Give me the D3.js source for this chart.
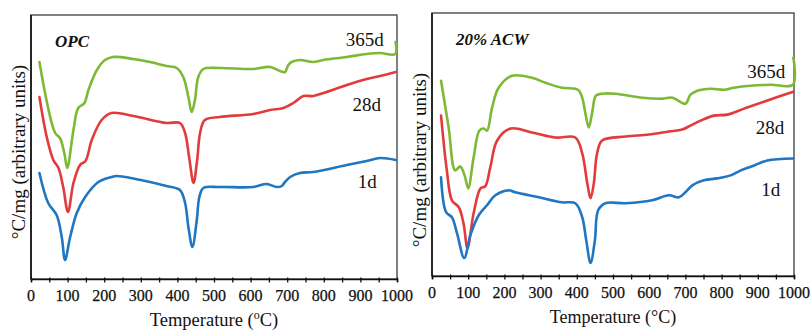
<!DOCTYPE html>
<html>
<head>
<meta charset="utf-8">
<script src="https://cdn.jsdelivr.net/npm/d3@7"></script>
<style>
  body { margin: 0; background: #fff; }
  svg { display: block; }
  text { font-family: "Liberation Serif", "Times New Roman", serif; fill: #111; }
</style>
</head>
<body>
<svg id="chart" width="811" height="331"></svg>
<script>
// temperature ticks (every 50, labelled every 100)
var tempTicks = d3.range(0, 1001, 50);
var tempLabels = d3.range(0, 1001, 100);

// OPC panel, [temperature degC, signal (arbitrary units)]
var opc365 = [[23,217],[66,146],[79,141],[91,126],[99,111],[116,149],[129,171],[146,176],[157,189],[180,209],[202,219],[224,222],[280,220],[325,217],[370,213],[398,211],[416,202],[430,182],[439,167],[448,179],[457,202],[471,210],[516,211],[607,210],[653,212],[680,208],[694,207],[703,214],[712,217],[735,219],[771,217],[799,219],[863,222],[917,225],[954,226],[995,225],[996,237]];
var opc28 = [[23,182],[43,142],[61,119],[75,111],[88,92],[101,67],[116,96],[134,114],[149,118],[166,139],[193,159],[220,166],[280,163],[370,156],[407,156],[421,146],[432,122],[444,96],[454,119],[462,146],[475,159],[516,162],[607,165],[653,169],[690,171],[717,176],[744,183],[771,183],[799,186],[863,194],[917,200],[954,203],[997,207]];
var opc1 = [[23,106],[47,76],[70,64],[84,42],[93,19],[107,42],[125,66],[148,82],[184,97],[220,102],[234,103],[300,99],[370,93],[407,89],[421,76],[430,52],[441,32],[453,59],[460,82],[471,91],[516,92],[607,92],[644,95],[671,92],[685,93],[694,97],[708,102],[735,106],[771,107],[863,114],[917,118],[954,121],[997,119]];

// 20% ACW panel
var acw365 = [[25,196],[46,149],[64,106],[78,110],[90,101],[100,88],[115,119],[131,146],[143,148],[152,146],[166,169],[184,189],[221,201],[276,199],[313,194],[359,189],[396,188],[406,186],[415,179],[424,163],[433,149],[442,163],[453,181],[470,183],[507,183],[581,179],[636,178],[664,179],[700,173],[714,182],[733,186],[770,188],[806,187],[834,189],[880,191],[936,192],[997,192],[998,219]];
var acw28 = [[25,161],[41,106],[55,76],[74,69],[87,53],[98,28],[115,63],[134,88],[147,90],[161,109],[180,136],[217,148],[276,144],[341,139],[396,139],[415,123],[429,93],[438,78],[447,93],[456,123],[470,136],[535,140],[599,142],[654,145],[691,147],[714,151],[742,156],[779,161],[816,162],[862,168],[917,175],[998,185]];
var acw1 = [[25,99],[39,64],[55,59],[69,43],[89,18],[106,41],[129,61],[152,71],[175,81],[212,86],[230,84],[295,79],[359,74],[396,73],[415,59],[426,36],[438,13],[450,36],[459,66],[479,73],[535,73],[608,76],[654,81],[682,79],[700,84],[719,91],[751,96],[788,98],[825,101],[853,106],[890,111],[926,116],[998,118]];

var seriesNames = ["365d", "28d", "1d"];
var seriesColors = ["#7db934", "#e33b3b", "#1f76c2"];

var svg = d3.select("#chart");

function drawPanel(p) {
	var x = d3.scaleLinear().domain([0, 1000]).range([p.left, p.right]);
	var y = d3.scaleLinear().domain([0, 264]).range([p.bottom, p.top]);
	var g = svg.append("g");

	g.append("rect")
		.attr("x", p.left).attr("y", p.top)
		.attr("width", p.right - p.left).attr("height", p.bottom - p.top)
		.attr("fill", "none").attr("stroke", "#4a4a4a").attr("stroke-width", 1.4);
	g.append("line")
		.attr("x1", p.left).attr("x2", p.left)
		.attr("y1", p.top).attr("y2", p.bottom)
		.attr("stroke", "#111").attr("stroke-width", 1.6);

	var axis = g.append("g")
		.attr("transform", "translate(0," + p.bottom + ")")
		.call(d3.axisBottom(x).tickValues(tempTicks).tickSizeOuter(0).tickSize(3).tickFormat(""));
	axis.select(".domain").attr("stroke", "#111").attr("stroke-width", 1.6);
	axis.selectAll(".tick line").attr("y1", -1.5).attr("y2", 3.5).attr("stroke", "#111").attr("stroke-width", 1.3);

	g.selectAll(".tlabel")
		.data(tempLabels)
		.join("text")
		.attr("class", "tlabel")
		.attr("x", d => x(d))
		.attr("y", p.bottom + 22)
		.attr("text-anchor", "middle")
		.attr("stroke", "#111").attr("stroke-width", 0.25)
		.style("font-size", "16px")
		.text(d => d);

	var line = d3.line()
		.x(d => x(d[0]))
		.y(d => y(d[1]))
		.curve(d3.curveCatmullRom.alpha(0.5));

	p.data.forEach(function(s, i) {
		g.append("path")
			.datum(s)
			.attr("d", line)
			.attr("fill", "none")
			.attr("stroke", seriesColors[i])
			.attr("stroke-width", 2.6)
			.attr("stroke-linejoin", "round")
			.attr("stroke-linecap", "round");
	});

	p.labels.forEach(function(l, i) {
		g.append("text")
			.attr("x", x(l[0])).attr("y", y(l[1]))
			.attr("text-anchor", "end")
			.style("font-size", "19px")
			.text(seriesNames[i]);
	});

	g.append("text")
		.attr("x", p.left + 24).attr("y", p.top + 32)
		.style("font-size", "17px").style("font-style", "italic")
		.style("font-weight", "bold").attr("fill", "#1a1a2e")
		.text(p.title);

	var xt = g.append("text")
		.attr("x", (p.left + p.right) / 2).attr("y", p.bottom + 47)
		.attr("text-anchor", "middle")
		.style("font-size", p.supDegree ? "18.5px" : "18px");
	xt.append("tspan").text("Temperature (");
	if (p.supDegree) {
		xt.append("tspan").attr("dy", -7).style("font-size", "12px").text("o");
		xt.append("tspan").attr("dy", 7).text("C)");
	} else {
		xt.append("tspan").text("°C)");
	}

	g.append("text")
		.attr("transform", "translate(" + p.ylabelX + "," + p.ylabelY + ") rotate(-90)")
		.attr("text-anchor", "middle")
		.style("font-size", "19px")
		.text("°C/mg (arbitrary units)");
}

drawPanel({
	left: 31, right: 397, top: 15, bottom: 279,
	data: [opc365, opc28, opc1],
	labels: [[964, 233], [956, 168], [945, 91]],
	title: "OPC", supDegree: true,
	ylabelX: 25, ylabelY: 152
});
drawPanel({
	left: 432, right: 794, top: 13, bottom: 276,
	data: [acw365, acw28, acw1],
	labels: [[976, 199], [973, 143], [962, 80]],
	title: "20% ACW", supDegree: false,
	ylabelX: 426, ylabelY: 160
});
</script>
</body>
</html>
